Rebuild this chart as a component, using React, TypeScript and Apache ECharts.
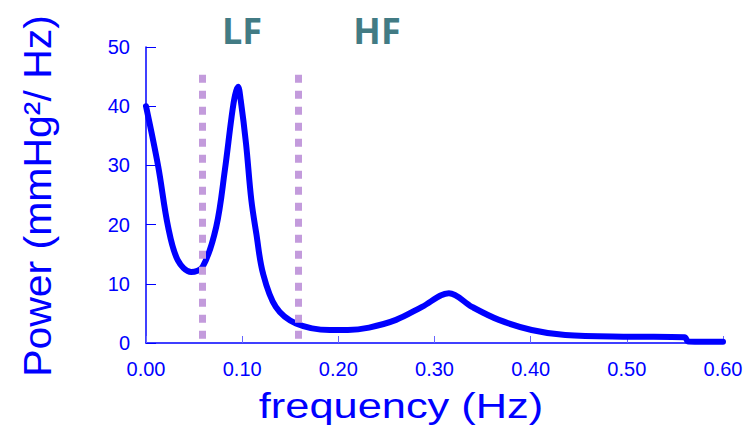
import React, { useEffect, useRef } from "react";
import * as echarts from "echarts";

// Spectral power curve, read point by point
const frequency = [
  0, 0.0127, 0.023, 0.033, 0.047, 0.059, 0.073, 0.082, 0.089, 0.0925, 0.0957,
  0.0985, 0.104, 0.1095, 0.1147, 0.1216, 0.135, 0.156, 0.191, 0.21, 0.232,
  0.26, 0.287, 0.315, 0.339, 0.367, 0.401, 0.436, 0.505, 0.56, 0.564, 0.6,
];
const power = [
  40, 29.8, 19.6, 14, 12.0, 12.9, 19.6, 29.2, 38.2, 41.8, 43.3, 41.0, 33.7,
  24.2, 18.5, 11.8, 6.1, 3.3, 2.2, 2.2, 2.6, 3.9, 6.1, 8.4, 6.1, 3.9, 2.2,
  1.35, 1.07, 0.96, 0.25, 0.2,
];

// Band boundaries (dotted markers) and their height
const bandEdges = [0.0588, 0.1585];
const bandTop = 45.3;

// Band names and where they sit above the plot
const bandNames = ["LF", "HF"];
const bandNameX = [242, 377];

const xTitle = "frequency (Hz)";
const yTitle = "Power (mmHg²/ Hz)";

const BLUE = "#0000ff";
const LAVENDER = "#c39bdc";
const TEAL = "#427b84";

export default function App() {
  const ref = useRef<HTMLDivElement>(null);

  useEffect(() => {
    if (!ref.current) return;
    const chart = echarts.init(ref.current, null, { renderer: "svg" });

    const curve = frequency.map((f, i) => [f, power[i]]);

    // dotted band markers, with a soft grey copy nudged right as a drop shadow
    const bandLine = (shift: number, color: string, z: number) => ({
      type: "line" as const,
      data: [],
      silent: true,
      z,
      markLine: {
        silent: true,
        symbol: "none",
        animation: false,
        label: { show: false },
        lineStyle: { color, width: 7, type: [8, 8], opacity: 1 },
        emphasis: { disabled: true },
        data: bandEdges.map((x) => [
          { coord: [x + shift, bandTop - shift * 40] },
          { coord: [x + shift, -shift * 40] },
        ]),
      },
    });

    chart.setOption({
      animation: false,
      grid: { left: 146, top: 47, right: 33, bottom: 90, containLabel: false },
      xAxis: {
        type: "value",
        min: 0,
        max: 0.6,
        interval: 0.1,
        axisLine: { lineStyle: { color: BLUE, width: 1.5 } },
        axisTick: { inside: true, length: 7, lineStyle: { color: "#6666ff", width: 1 } },
        splitLine: { show: false },
        axisLabel: {
          color: BLUE,
          fontFamily: "Liberation Sans",
          fontSize: 20,
          margin: 16,
          formatter: (v: number) => v.toFixed(2),
        },
      },
      yAxis: {
        type: "value",
        min: 0,
        max: 50,
        interval: 10,
        axisLine: { show: true, lineStyle: { color: BLUE, width: 1.5 } },
        axisTick: { show: true, inside: true, length: 10, lineStyle: { color: BLUE, width: 1 } },
        splitLine: { show: false },
        axisLabel: {
          color: BLUE,
          fontFamily: "Liberation Sans",
          fontSize: 20,
          margin: 16,
        },
      },
      series: [
        {
          type: "line",
          data: curve,
          symbol: "none",
          smooth: 0.35,
          z: 3,
          lineStyle: { color: BLUE, width: 6, cap: "round", join: "round" },
        },
        bandLine(0.0016, "rgba(120,120,120,0.35)", 4),
        bandLine(0, LAVENDER, 5),
      ],
      graphic: [
        ...bandNames.map((name, i) => ({
          type: "text",
          x: bandNameX[i],
          y: 30,
          style: {
            text: name,
            x: 0,
            y: 0,
            textAlign: "center",
            textVerticalAlign: "middle",
            fontFamily: "Open Sans",
            fontWeight: "bold",
            fontSize: 36,
            fill: TEAL,
          },
        })),
        {
          type: "text",
          x: 401,
          y: 406,
          scaleX: 1.24,
          style: {
            text: xTitle,
            x: 0,
            y: 0,
            textAlign: "center",
            textVerticalAlign: "middle",
            fontFamily: "Liberation Sans",
            fontSize: 35,
            fill: BLUE,
          },
        },
        {
          type: "text",
          x: 37,
          y: 196,
          rotation: Math.PI / 2,
          scaleX: 1.05,
          style: {
            text: yTitle,
            x: 0,
            y: 0,
            textAlign: "center",
            textVerticalAlign: "middle",
            fontFamily: "Liberation Sans",
            fontSize: 39,
            fill: BLUE,
          },
        },
      ],
    });

    return () => chart.dispose();
  }, []);

  return (
    <div
      ref={ref}
      style={{ position: "fixed", left: 0, top: 0, width: 756, height: 433, background: "#fff" }}
    />
  );
}
